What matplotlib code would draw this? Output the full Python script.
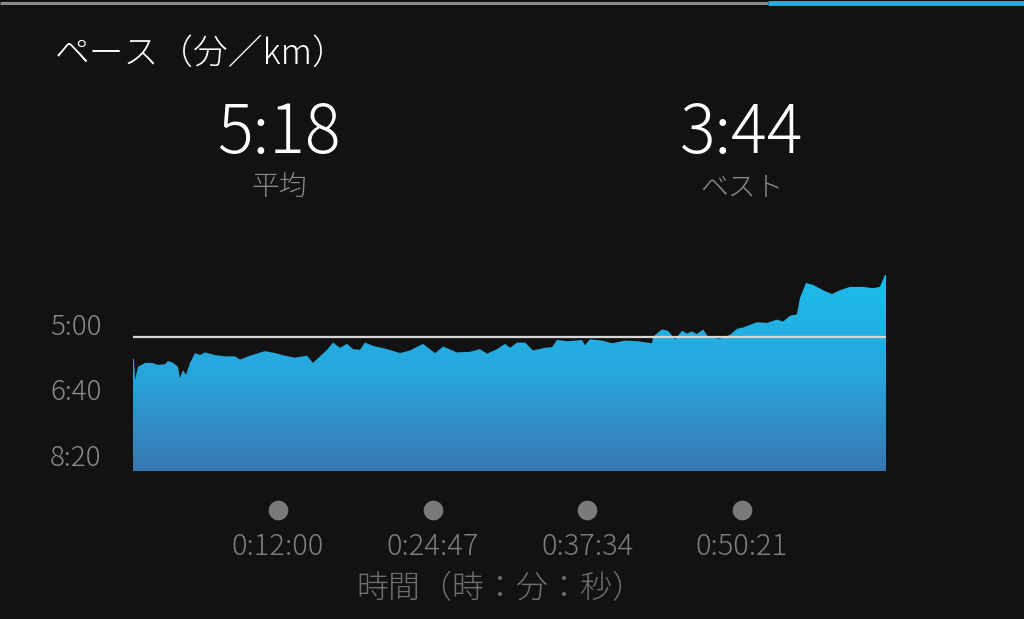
import numpy as np
import matplotlib.pyplot as plt
from matplotlib.colors import LinearSegmentedColormap

plt.rcParams['font.family'] = ['Noto Sans CJK JP', 'DejaVu Sans']

# elapsed time (s) and pace (s per km)
time_s = [0, 5, 10, 25, 60, 94, 124, 159, 174, 199, 223, 233, 248, 263, 283, 308,
          333, 357, 407, 457, 506, 531, 581, 655, 705, 754, 804, 864, 893, 928,
          963, 993, 1027, 1062, 1092, 1127, 1151, 1191, 1261, 1325, 1375, 1439,
          1499, 1539, 1608, 1673, 1722, 1757, 1807, 1846, 1871, 1906, 1946, 1985,
          2045, 2080, 2104, 2159, 2228, 2243, 2268, 2328, 2377, 2442, 2506, 2576,
          2581, 2625, 2655, 2690, 2725, 2749, 2774, 2799, 2829, 2854, 2888, 2913,
          2963, 2998, 3027, 3062, 3097, 3147, 3196, 3226, 3261, 3295, 3310, 3340,
          3375, 3424, 3469, 3509, 3558, 3623, 3673, 3707, 3732, 3737]
pace_s = [352, 352, 384, 364, 358, 358, 361, 360, 355, 358, 364, 381, 369, 376, 358, 343,
          346, 342, 346, 348, 348, 353, 347, 340, 343, 347, 350, 347, 358, 348,
          338, 327, 335, 329, 337, 338, 327, 332, 337, 343, 339, 329,
          343, 333, 342, 341, 337, 344, 337, 329, 335, 327, 327, 339,
          335, 334, 323, 325, 323, 331, 322, 324, 328, 324, 325, 328,
          318, 307, 309, 322, 309, 313, 310, 314, 307, 318, 320, 321,
          315, 306, 304, 300, 296, 297, 292, 295, 286, 284, 259, 236,
          239, 247, 253, 247, 242, 242, 244, 242, 224, 224]

avg_pace = 318
y_ticks = [300, 400, 500]
y_labels = ['5:00', '6:40', '8:20']
x_ticks = [720, 1487, 2254, 3021]
x_labels = ['0:12:00', '0:24:47', '0:37:34', '0:50:21']

bg = '#121212'
W, H = 1024, 619
fig = plt.figure(figsize=(W / 100, H / 100), dpi=100, facecolor=bg)

# full-figure overlay in pixel coordinates for the texts around the plot
bar = fig.add_axes([0, 0, 1, 1], facecolor='none')
bar.set_xlim(0, W)
bar.set_ylim(H, 0)
bar.axis('off')
bar.plot([0, 768], [3, 3], color='#8a8a8a', lw=2.2, solid_capstyle='butt')
bar.plot([768, W], [2.5, 2.5], color='#2ea8dc', lw=3.5, solid_capstyle='butt')

light = 'light'
bar.text(55, 54, 'ペース（分／km）', color='white', fontsize=25, va='center', ha='left',
         fontweight=light)
bar.text(279, 134, '5:18', color='white', fontsize=48, va='center', ha='center',
         fontweight=light)
bar.text(279, 187, '平均', color='#8a8a8a', fontsize=20, va='center', ha='center',
         fontweight=light)
bar.text(742, 134, '3:44', color='white', fontsize=48, va='center', ha='center',
         fontweight=light)
bar.text(742, 187, 'ベスト', color='#8a8a8a', fontsize=20, va='center', ha='center',
         fontweight=light)

# plot area: x 133..886 px, y 265..471 px
left, right, top, bottom = 133, 886, 265, 471
ax = fig.add_axes([left / W, 1 - bottom / H, (right - left) / W, (bottom - top) / H])
ax.set_facecolor('none')
xmax = 3737
ymax, ymin = 523, 208.6
for s in ax.spines.values():
    s.set_visible(False)

poly = ax.fill_between(time_s, pace_s, ymax, color='none', lw=0)
cmap = LinearSegmentedColormap.from_list('pace', ['#1cbcec', '#27a6dc', '#3877b0'])
grad = np.linspace(0, 1, 256).reshape(-1, 1)
img = ax.imshow(grad, cmap=cmap, aspect='auto', extent=[0, xmax, ymax, 224],
                origin='upper', zorder=1)
img.set_clip_path(poly.get_paths()[0], transform=ax.transData)
ax.set_xlim(0, xmax)
ax.set_ylim(ymax, ymin)

ax.axhline(avg_pace, color='#d6d6d6', lw=1.6, zorder=3)

ax.set_xticks([])
ax.set_yticks([])
for v, lab in zip(y_ticks, y_labels):
    ax.text((50 - left) / (right - left), v + 3, lab, transform=ax.get_yaxis_transform(),
            color='#8a8a8a', fontsize=20, ha='left', va='center', fontweight=light)

# x ticks drawn as dots + labels below the plot
for t, lab in zip(x_ticks, x_labels):
    xp = left + t / xmax * (right - left)
    bar.scatter([xp], [510], s=200, color='#7a7a7a', lw=0)
    bar.text(xp, 547, lab, color='#7c7c7c', fontsize=21, ha='center', va='center',
             fontweight=light)

bar.text(500, 589, '時間（時：分：秒）', color='#6e6e6e', fontsize=23, ha='center',
         va='center', fontweight=light)

fig.savefig('out.png', dpi=100, facecolor=bg)
